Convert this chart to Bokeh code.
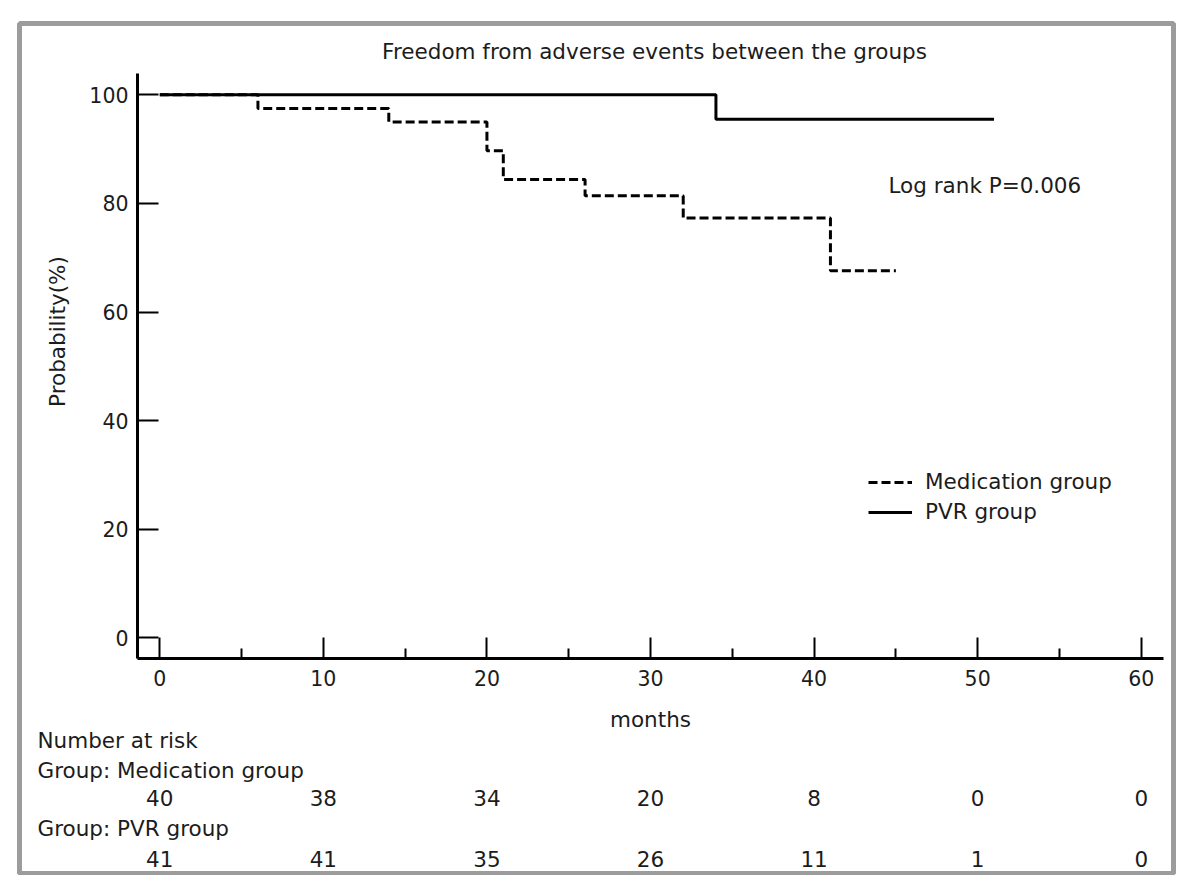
import math
from bokeh.plotting import figure
from bokeh.models import FixedTicker, Legend, LegendItem, Range1d, ColumnDataSource
from bokeh.core.properties import value
from bokeh.embed import file_html
from bokeh.resources import INLINE

# ---------------- data ----------------
med_months = [0, 6, 14, 20, 21, 26, 32, 41, 45]
med_surv = [100, 97.5, 95.0, 89.7, 84.4, 81.4, 77.3, 67.6, 67.6]
pvr_months = [0, 34, 51]
pvr_surv = [100, 95.5, 95.5]

risk_times = [0, 10, 20, 30, 40, 50, 60]
risk_med = [40, 38, 34, 20, 8, 0, 0]
risk_pvr = [41, 41, 35, 26, 11, 1, 0]

x_major = [0, 10, 20, 30, 40, 50, 60]
x_minor = [5, 15, 25, 35, 45, 55]
y_major = [0, 20, 40, 60, 80, 100]

title_text = "Freedom from adverse events between the groups"
pvalue_text = "Log rank P=0.006"
x_label = "months"
y_label = "Probability(%)"
series_names = ["Medication group", "PVR group"]
risk_header = "Number at risk"
risk_rows = ["Group: Medication group", "Group: PVR group"]

# ---------------- layout calibration (pixels) ----------------
W, H = 1176, 875
FONT = "DejaVu Sans"
FS = "21.5px"
TICK_FS = "20.5px"
TXT = "#1c1c1c"
X0, XS = 159.3, 16.357      # x of month 0, px per month
Y0, YS = 637.3, 5.43        # y of 0 %, px per percent
FL, FT, FR, FB = 19, 23, 1173, 873   # frame edges


def mx(px):
    return (px - X0) / XS


def my(py):
    return (Y0 - py) / YS


p = figure(width=W, height=H, output_backend="svg", toolbar_location=None,
           x_range=Range1d(mx(FL), mx(FR)), y_range=Range1d(my(FB), my(FT)),
           min_border_left=FL, min_border_right=W - FR,
           min_border_top=FT, min_border_bottom=H - FB)
p.background_fill_color = "white"
p.border_fill_color = "white"
p.outline_line_color = "#9c9c9c"
p.outline_line_width = 5
p.xgrid.visible = False
p.ygrid.visible = False

# axes placed inside the frame
for ax in (p.xaxis[0], p.yaxis[0]):
    ax.axis_line_width = 3
    ax.axis_line_color = "black"
    ax.major_tick_line_width = 2
    ax.minor_tick_line_width = 2
    ax.major_tick_out = 0
    ax.minor_tick_out = 0
    ax.major_label_text_font = FONT
    ax.major_label_text_font_size = TICK_FS
    ax.major_label_text_color = TXT
    ax.axis_label_text_font = FONT
    ax.axis_label_text_font_size = FS
    ax.axis_label_text_font_style = "normal"
    ax.axis_label_text_color = TXT

xa = p.xaxis[0]
xa.fixed_location = my(658)
xa.bounds = (mx(137), mx(1163))
xa.ticker = FixedTicker(ticks=x_major, minor_ticks=x_minor)
xa.major_tick_in = 21
xa.minor_tick_in = 10
xa.major_label_standoff = 11
xa.axis_label = x_label
xa.axis_label_standoff = 18

ya = p.yaxis[0]
ya.fixed_location = mx(137)
ya.bounds = (my(658), my(73))
ya.ticker = FixedTicker(ticks=y_major, minor_ticks=[])
ya.major_tick_in = 21
ya.minor_tick_in = 0
ya.major_label_standoff = 9

# survival curves
r_med = p.step(med_months, med_surv, mode="after", line_color="black",
               line_width=3, line_dash="9 4")
r_pvr = p.step(pvr_months, pvr_surv, mode="after", line_color="black", line_width=3)

legend = Legend(items=[LegendItem(label=series_names[0], renderers=[r_med]),
                       LegendItem(label=series_names[1], renderers=[r_pvr])],
                location=(868 - FL, FB - 526.5), orientation="vertical",
                label_text_font=FONT, label_text_font_size=FS, label_text_color=TXT,
                glyph_width=44, glyph_height=30, label_height=30, label_standoff=13,
                spacing=0, padding=0, margin=0,
                border_line_alpha=0, background_fill_alpha=0)
p.add_layout(legend)

common = dict(text_font=value(FONT), text_font_size=value(FS), text_color=TXT,
              text_baseline="middle")

# y axis title (rotated), chart title and p-value
p.text(x=[mx(57)], y=[my(331)], text=[y_label], text_align="center",
       angle=math.pi / 2, **common)
p.text(x=[mx(654)], y=[my(51)], text=[title_text], text_align="center", **common)
p.text(x=[mx(888)], y=[my(185)], text=[pvalue_text], text_align="left", **common)

# number at risk table
p.text(x=[mx(37)] * 3, y=[my(740), my(770), my(827.5)],
       text=[risk_header, risk_rows[0], risk_rows[1]], text_align="left", **common)
src_med = ColumnDataSource(dict(x=risk_times, y=[my(797.5)] * len(risk_times),
                                t=[str(v) for v in risk_med]))
src_pvr = ColumnDataSource(dict(x=risk_times, y=[my(858)] * len(risk_times),
                                t=[str(v) for v in risk_pvr]))
p.text(x="x", y="y", text="t", source=src_med, text_align="center", **common)
p.text(x="x", y="y", text="t", source=src_pvr, text_align="center", **common)

open("out.html", "w").write(file_html(p, INLINE))
